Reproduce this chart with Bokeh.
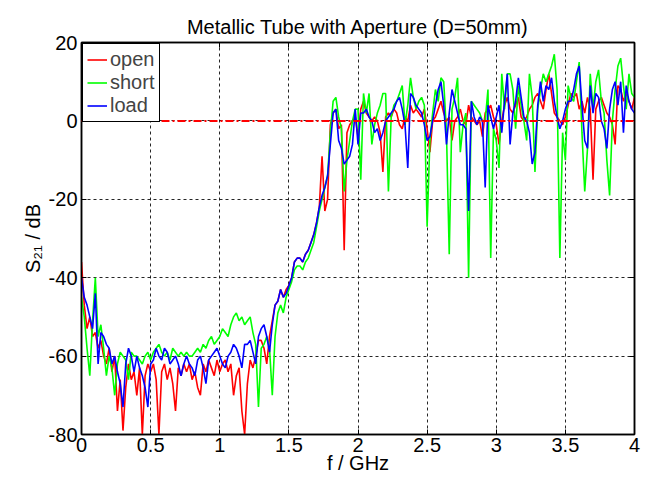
import numpy as np
from bokeh.plotting import figure
from bokeh.models import Range1d, FixedTicker, Legend, LegendItem, Span, LinearAxis
from bokeh.embed import file_html
from bokeh.resources import INLINE

# ---------------- data ----------------
title_text = "Metallic Tube with Aperture (D=50mm)"
x_label_text = "f / GHz"
y_label_text = "S\u2082\u2081 / dB"
series_names = ["open", "short", "load"]
series_colors = ["#ff0000", "#00ff00", "#0000ff"]
f_step_ghz = 0.02

open_db = [
    -36, -47, -53, -50, -55, -54, -58, -56, -60, -62,
    -58, -64, -60, -74, -66, -79, -68, -62, -66, -64,
    -70, -63, -80, -65, -62, -64, -62, -66, -80, -64,
    -62, -66, -63, -67, -74, -63, -65, -62, -64, -62,
    -66, -64, -68, -70, -62, -64, -61, -63, -65, -61,
    -64, -62, -61, -64, -62, -70, -65, -63, -74, -80,
    -67, -61, -63, -60, -56, -56, -58, -62, -55, -51,
    -47, -46, -43, -45, -43, -42, -40, -36, -35, -35,
    -36, -34, -33, -31, -29, -26, -22, -9, -23, -20,
    -1, 2, 3, -2, -1, -33, -3, -1, 0, 1,
    -4, 3, 5, 2, 1, 0, 1, 0, -3, -13,
    1, 2, 1, 3, 2, -1, -2, 1, 0, 4,
    2, 3, 2, 1, 3, -2, -8, 0, 1, 3,
    5, 2, 0, 1, -5, 0, 1, 3, 0, -1,
    4, 1, 0, -1, 0, -4, 2, 3, 4, 1,
    -1, -6, 0, 4, 6, 3, 2, 4, 6, 1,
    0, 1, 3, 4, 6, 7, 5, 3, 8, 12,
    7, 2, 1, 0, -1, 1, 4, 7, 6, 7,
    3, 5, 2, 6, 3, -15, 3, 5, 6, 4,
    2, 1, -1, -6, 9, 8, 5, 7, 5, 3,
    6,
]

short_db = [
    -45, -50, -58, -65, -51, -40, -55, -52, -58, -65,
    -60, -63, -70, -62, -59, -60, -61, -66, -59, -60,
    -60, -61, -62, -60, -59, -61, -59, -58, -57, -59,
    -60, -59, -61, -58, -59, -60, -59, -60, -59, -60,
    -60, -59, -58, -59, -57, -58, -56, -55, -57, -56,
    -55, -53, -54, -55, -52, -50, -49, -51, -50, -52,
    -51, -50, -54, -57, -73, -58, -57, -55, -58, -70,
    -55, -49, -47, -49, -45, -43, -41, -38, -37, -37,
    -38, -36, -35, -33, -31, -27, -23, -20, -17, -14,
    -3, 5, 6, 1, -2, -18, -10, -5, 0, 3,
    3, -15, 7, 2, 7, -6, -1, 2, 4, 7,
    7, -18, 1, 4, 5, 7, 9, -1, 4, 11,
    6, 3, 5, 6, 4, -27, -5, 2, 8, 5,
    11, 10, -3, -34, 3, 6, 11, -8, -1, 2,
    -40, 5, 4, 3, 2, 0, 0, 8, -35, -2,
    -5, -12, 12, 3, 12, 12, 8, -2, 9, 4,
    0, -5, 12, 6, -13, 3, 8, 12, 10, 12,
    14, 17, 8, -35, -3, -10, 9, 6, 5, 10,
    15, -3, -18, -7, 12, 3, 10, 13, 5, 2,
    -10, -19, 0, 8, 14, 16, 9, 3, 12, 7,
    6,
]

load_db = [
    -40, -45, -47, -50, -53, -44, -62, -54, -55, -57,
    -58, -62, -60, -64, -67, -73, -62, -58, -60, -64,
    -60, -63, -65, -68, -73, -62, -61, -58, -60, -61,
    -58, -59, -62, -61, -60, -62, -65, -62, -60, -62,
    -63, -65, -61, -60, -63, -67, -61, -60, -59, -58,
    -60, -62, -63, -60, -59, -57, -58, -60, -63, -57,
    -57, -56, -59, -62, -55, -53, -52, -55, -59, -52,
    -47, -46, -43, -45, -44, -42, -40, -36, -35, -35,
    -36, -34, -33, -31, -29, -26, -22, -19, -17, -14,
    -6, 2, 3, -5, -7, -11, -10, -9, -6, 3,
    -6, 2, 2, 3, 1, 0, -3, -2, -5, -3,
    0, 1, 2, 3, 5, 6, 3, -1, -12, 7,
    6, 4, 3, 2, -1, -5, -4, 0, 4, 8,
    10, 4, -6, 2, 8, 5, 2, -1, -1, -2,
    -23, 5, 1, -1, 1, 0, -17, 4, 1, -2,
    1, 4, -3, 5, 12, -6, 2, 5, 11, 6,
    1, 0, -3, -11, -8, 4, 10, 5, 9, 8,
    11, 5, 1, -2, 0, 3, 5, 5, 8, 12,
    14, 4, -5, -7, 9, 2, 7, 6, 0, -2,
    -7, 3, 8, 10, 4, 10, -3, 9, 5, 3,
    2,
]

freq_ghz = [round(i * f_step_ghz, 2) for i in range(len(open_db))]

x_ticks = [0, 0.5, 1, 1.5, 2, 2.5, 3, 3.5, 4]
x_tick_labels = ["0", "0.5", "1", "1.5", "2", "2.5", "3", "3.5", "4"]
y_ticks = [-80, -60, -40, -20, 0, 20]
y_tick_labels = ["-80", "-60", "-40", "-20", "0", "20"]

FONT = "Liberation Sans"

# ---------------- figure ----------------
p = figure(
    width=648, height=479,
    x_range=Range1d(0, 4), y_range=Range1d(-80, 20),
    output_backend="svg", toolbar_location=None,
    min_border_left=81, min_border_right=14,
    min_border_top=42, min_border_bottom=45,
)
p.background_fill_color = "white"
p.border_fill_color = "white"
p.outline_line_color = "black"
p.outline_line_width = 1.5
p.outline_line_alpha = 1.0

p.title.text = title_text
p.title.align = "center"
p.title.text_font = FONT
p.title.text_font_size = "20px"
p.title.text_font_style = "normal"
p.title.text_color = "black"
p.title.standoff = 9

for ax in (p.xaxis[0], p.yaxis[0]):
    ax.major_label_text_font = FONT
    ax.major_label_text_font_size = "20px"
    ax.major_label_text_color = "black"
    ax.axis_label_text_font = FONT
    ax.axis_label_text_font_size = "20px"
    ax.axis_label_text_font_style = "normal"
    ax.axis_label_text_color = "black"
    ax.axis_line_color = "black"
    ax.axis_line_width = 1.5
    ax.major_tick_in = 5
    ax.major_tick_out = 0
    ax.minor_tick_in = 0
    ax.minor_tick_out = 0
    ax.major_tick_line_color = "black"

p.xaxis[0].ticker = FixedTicker(ticks=x_ticks)
p.xaxis[0].major_label_overrides = {t: s for t, s in zip(x_ticks, x_tick_labels)}
p.xaxis[0].major_label_standoff = 3
p.xaxis[0].axis_label = x_label_text
p.xaxis[0].axis_label_standoff = -3
p.yaxis[0].ticker = FixedTicker(ticks=y_ticks)
p.yaxis[0].major_label_overrides = {t: s for t, s in zip(y_ticks, y_tick_labels)}
p.yaxis[0].major_label_standoff = 4
p.yaxis[0].axis_label = y_label_text
p.yaxis[0].axis_label_standoff = 2

# inward tick marks on the top and right edges (MATLAB box style), labels not drawn
top_ax = LinearAxis(ticker=FixedTicker(ticks=x_ticks))
right_ax = LinearAxis(ticker=FixedTicker(ticks=y_ticks))
for ax in (top_ax, right_ax):
    ax.major_label_text_font_size = "1px"
    ax.major_label_text_color = None
    ax.major_label_standoff = 0
    ax.major_tick_in = 5
    ax.major_tick_out = 0
    ax.minor_tick_in = 0
    ax.minor_tick_out = 0
    ax.major_tick_line_color = "black"
    ax.axis_line_color = "black"
    ax.axis_line_width = 1.5
p.add_layout(top_ax, "above")
p.add_layout(right_ax, "right")

for g in (p.xgrid[0], p.ygrid[0]):
    g.grid_line_color = "black"
    g.grid_line_dash = "3 3"
    g.grid_line_width = 1
    g.grid_line_alpha = 0.85

series = [open_db, short_db, load_db]
renderers = []
for name, col, vals in zip(series_names, series_colors, series):
    r = p.line(freq_ghz, vals, line_color=col, line_width=1.6)
    renderers.append(r)

zero = Span(location=0, dimension="width", line_color="#ff0000",
            line_width=2, line_dash="8 3 2 3")
p.add_layout(zero)

legend = Legend(
    items=[LegendItem(label=n, renderers=[r]) for n, r in zip(series_names, renderers)],
    location="top_left", margin=1, padding=4, spacing=0,
    glyph_width=20, glyph_height=23, label_height=23, label_standoff=3,
    label_text_font=FONT, label_text_font_size="20px",
    border_line_color="black", border_line_width=1, border_line_alpha=1,
    background_fill_color="white", background_fill_alpha=1,
)
p.add_layout(legend)

open("out.html", "w").write(file_html(p, INLINE))
